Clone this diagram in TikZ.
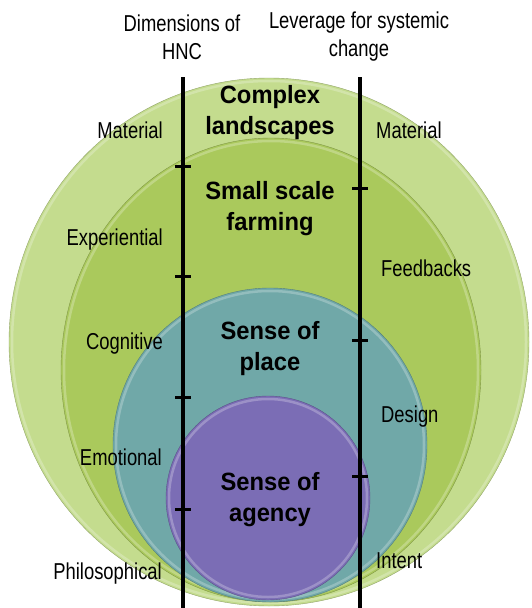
\documentclass[tikz,border=0pt]{standalone}
\usepackage{fontspec}
\setmainfont[FakeStretch=0.8]{Liberation Sans}
\newfontfamily\ringfont[FakeStretch=0.95]{Liberation Sans}
\usepackage{tikz}
\usetikzlibrary{calc}
\definecolor{outergreen}{RGB}{196,220,142}
\definecolor{farmgreen}{RGB}{170,201,92}
\definecolor{placeteal}{RGB}{112,168,168}
\definecolor{agencypurple}{RGB}{123,109,181}
\begin{document}
\begin{tikzpicture}[x=1pt,y=-1pt,
    dimlabel/.style={font=\fontsize{23}{28}\selectfont,inner sep=0pt},
    ringlabel/.style={font=\ringfont\fontsize{25}{31}\selectfont\bfseries,align=center,inner sep=0pt},
    headlabel/.style={font=\fontsize{23}{28}\selectfont,align=center,inner sep=0pt},
    rim/.style={line width=2.5pt,opacity=0.5}]
    \useasboundingbox(0,0)rectangle(531,608);
    % nested rings
    \filldraw[fill=outergreen,draw=outergreen!75!black](269,342)ellipse[x radius=260,y radius=264];
    \draw[rim,draw=outergreen!50!white](269,342)ellipse[x radius=257,y radius=261];
    \filldraw[fill=farmgreen,draw=farmgreen!75!black](271,370)ellipse[x radius=210,y radius=232];
    \draw[rim,draw=farmgreen!50!white](271,370)ellipse[x radius=207,y radius=229];
    \filldraw[fill=placeteal,draw=placeteal!75!black](270,445)circle(157);
    \draw[rim,draw=placeteal!50!white](270,445)circle(154);
    \filldraw[fill=agencypurple,draw=agencypurple!75!black](268,498)circle(102);
    \draw[rim,draw=agencypurple!50!white](268,498)circle(99);
    % axes
    \coordinate(dimtop)at(183,77);
    \coordinate(dimbot)at(183,608);
    \coordinate(levtop)at(360,77);
    \coordinate(levbot)at(360,608);
    \draw[line width=4pt](dimtop)--(dimbot);
    \draw[line width=4pt](levtop)--(levbot);
    \foreach \y in {166,276,397,509}
      \draw[line width=3pt](175,\y)--(191,\y);
    \foreach \y in {188,340,476}
      \draw[line width=3pt](352,\y)--(368,\y);
    % headings
    \node[headlabel](dimhead)at(182,37){Dimensions of\\HNC};
    \node[headlabel](levhead)at(359,37){Leverage for systemic\\change};
    % rings
    \node[ringlabel](complex)at(270,113){Complex\\landscapes};
    \node[ringlabel](farming)at(270,209){Small scale\\farming};
    \node[ringlabel](place)at(270,349){Sense of\\place};
    \node[ringlabel](agency)at(270,500){Sense of\\agency};
    % dimensions
    \node[dimlabel,anchor=east](material)at(163,130){Material};
    \node[dimlabel,anchor=east](experiential)at(163,240){Experiential};
    \node[dimlabel,anchor=east](cognitive)at(163,344){Cognitive};
    \node[dimlabel,anchor=east](emotional)at(162,457){Emotional};
    \node[dimlabel,anchor=east](philosophical)at(162,574){Philosophical};
    % leverage points
    \node[dimlabel,anchor=west](lmaterial)at(376,130){Material};
    \node[dimlabel,anchor=west](feedbacks)at(381,268){Feedbacks};
    \node[dimlabel,anchor=west](design)at(381,417){Design};
    \node[dimlabel,anchor=west](intent)at(376,561){Intent};
\end{tikzpicture}
\end{document}
